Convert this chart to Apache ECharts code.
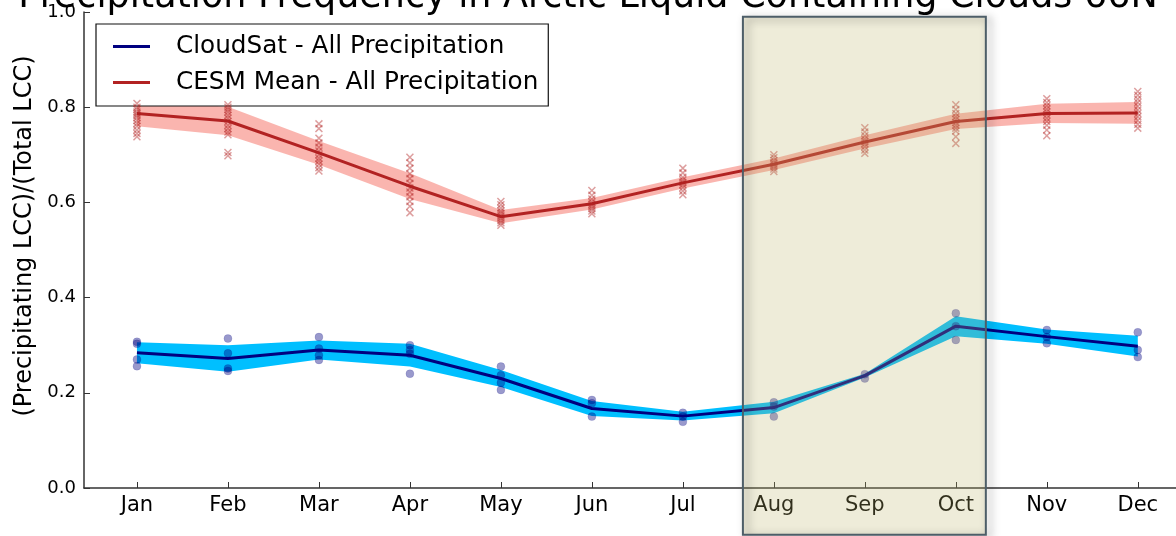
<!DOCTYPE html>
<html>
<head>
<meta charset="utf-8">
<script src="https://cdn.jsdelivr.net/npm/echarts@6/dist/echarts.min.js"></script>
<style>
html,body{margin:0;padding:0;background:#fff;}
#chart{width:1176px;height:536px;}
</style>
</head>
<body>
<div id="chart"></div>
<script>
const months = ['Jan','Feb','Mar','Apr','May','Jun','Jul','Aug','Sep','Oct','Nov','Dec'];
const yTicks = [0, 0.2, 0.4, 0.6, 0.8, 1.0];

const cesmMean   = [0.787,0.771,0.704,0.634,0.570,0.597,0.641,0.680,0.727,0.770,0.787,0.788];
const cesmSpread = [0.027,0.030,0.025,0.027,0.014,0.012,0.012,0.012,0.014,0.016,0.020,0.023];

const cloudsatMean   = [0.284,0.272,0.290,0.279,0.230,0.167,0.151,0.169,0.236,0.340,0.318,0.298];
const cloudsatSpread = [0.022,0.028,0.020,0.024,0.018,0.016,0.009,0.012,0.004,0.021,0.015,0.022];

const cloudsatYears = [
  [0.307,0.303,0.270,0.256],
  [0.314,0.283,0.251,0.246],
  [0.317,0.293,0.279,0.269],
  [0.300,0.290,0.282,0.240],
  [0.255,0.237,0.221,0.206],
  [0.185,0.178,0.150],
  [0.158,0.150,0.139],
  [0.180,0.171,0.150],
  [0.239,0.230],
  [0.367,0.340,0.311],
  [0.332,0.317,0.304],
  [0.327,0.290,0.275]
];

const cesmMembers = [
  [0.808,0.800,0.795,0.790,0.786,0.782,0.778,0.772,0.766,0.760,0.752,0.745,0.738],
  [0.805,0.800,0.795,0.790,0.783,0.777,0.770,0.762,0.755,0.748,0.742,0.705,0.698],
  [0.765,0.755,0.735,0.725,0.716,0.708,0.700,0.693,0.687,0.680,0.673,0.666],
  [0.695,0.683,0.672,0.660,0.650,0.640,0.630,0.622,0.612,0.602,0.592,0.578],
  [0.602,0.595,0.588,0.582,0.577,0.572,0.567,0.562,0.557,0.552],
  [0.625,0.615,0.607,0.601,0.596,0.592,0.587,0.582,0.576],
  [0.672,0.662,0.653,0.647,0.642,0.637,0.631,0.624,0.616],
  [0.700,0.694,0.688,0.683,0.679,0.675,0.670,0.665],
  [0.757,0.748,0.740,0.733,0.728,0.723,0.717,0.710,0.703],
  [0.805,0.795,0.787,0.780,0.774,0.768,0.762,0.756,0.750,0.738,0.724],
  [0.818,0.810,0.803,0.796,0.790,0.784,0.777,0.770,0.762,0.752,0.740],
  [0.833,0.825,0.817,0.810,0.802,0.794,0.787,0.780,0.772,0.764,0.756]
];

// highlighted season box (Aug-Oct), in data units: [xFrom, yTop, xTo, yBottom]
const highlightBox = [7.66, 0.99, 10.33, -0.098];

const FONT = 'DejaVu Sans';
const xs = months.map((m, i) => i + 1);

function pairs(vals) { return vals.map((v, i) => [xs[i], v]); }
function scatterPairs(groups) {
  const out = [];
  groups.forEach((g, i) => g.forEach(v => out.push([xs[i], v])));
  return out;
}
function bandSeries(mean, spread, fill, z) {
  return {
    type: 'custom', z: z, silent: true,
    data: [[xs[0], mean[0]]],
    encode: {x: 0, y: 1},
    renderItem: function (params, api) {
      const pts = [];
      for (let i = 0; i < mean.length; i++) pts.push(api.coord([xs[i], mean[i] + spread[i]]));
      for (let i = mean.length - 1; i >= 0; i--) pts.push(api.coord([xs[i], mean[i] - spread[i]]));
      return {type: 'polygon', shape: {points: pts}, style: {fill: fill}};
    }
  };
}

const crossPath = 'path://M0,1.3 L1.3,0 L5,3.7 L8.7,0 L10,1.3 L6.3,5 L10,8.7 L8.7,10 L5,6.3 L1.3,10 L0,8.7 L3.7,5 Z';

const chart = echarts.init(document.getElementById('chart'), null, {renderer: 'canvas'});
chart.setOption({
  animation: false,
  backgroundColor: '#ffffff',
  title: {
    text: 'Precipitation Frequency in Arctic Liquid Containing Clouds 66N',
    left: 'center', top: -26,
    textStyle: {fontFamily: FONT, fontSize: 36.5, fontWeight: 'normal', color: '#000'}
  },
  legend: {
    orient: 'vertical', left: 96, top: 24,
    padding: [10, 10, 11, 17],
    itemGap: 11, itemWidth: 37, itemHeight: 3, icon: 'rect',
    borderColor: '#111', borderWidth: 1.2, borderRadius: 0,
    backgroundColor: '#fff',
    data: ['CloudSat - All Precipitation', 'CESM Mean - All Precipitation'],
    textStyle: {fontFamily: FONT, fontSize: 24.7, color: '#000', lineHeight: 24, padding: [0, 0, 0, 21]}
  },
  grid: {left: 84, right: 0, top: 12, bottom: 48, containLabel: false},
  xAxis: {
    type: 'value', min: 0.418, max: 12.42,
    axisLine: {show: true, lineStyle: {color: '#333', width: 1.5}},
    axisTick: {show: true, inside: true, length: 6, customValues: xs, lineStyle: {color: '#333', width: 1}},
    axisLabel: {customValues: xs, formatter: v => months[Math.round(v) - 1], fontFamily: FONT, fontSize: 21, color: '#000', margin: 7},
    splitLine: {show: false}
  },
  yAxis: {
    type: 'value', min: yTicks[0], max: yTicks[yTicks.length - 1], interval: 0.2,
    name: '(Precipitating LCC)/(Total LCC)', nameLocation: 'middle', nameRotate: 90, nameGap: 45,
    nameTextStyle: {fontFamily: FONT, fontSize: 24, color: '#000', padding: [0, 0, 0, 28]},
    axisLine: {show: true, lineStyle: {color: '#333', width: 1.5}},
    axisTick: {show: true, inside: true, length: 6, lineStyle: {color: '#333', width: 1}},
    axisLabel: {formatter: v => v.toFixed(1), fontFamily: FONT, fontSize: 18, color: '#000', margin: 8},
    splitLine: {show: false}
  },
  series: [
    bandSeries(cesmMean, cesmSpread, 'rgba(245,120,110,0.55)', 2),
    bandSeries(cloudsatMean, cloudsatSpread, '#00bfff', 2),
    {
      name: 'CESM Mean - All Precipitation', type: 'line', z: 3,
      data: pairs(cesmMean), symbol: 'none', lineStyle: {color: '#b22222', width: 3}, itemStyle: {color: '#b22222'}
    },
    {
      name: 'CloudSat - All Precipitation', type: 'line', z: 3,
      data: pairs(cloudsatMean), symbol: 'none', lineStyle: {color: '#000080', width: 3}, itemStyle: {color: '#000080'}
    },
    {
      type: 'scatter', z: 4, silent: true,
      data: scatterPairs(cesmMembers), symbol: crossPath, symbolSize: 8,
      itemStyle: {color: 'rgba(178,34,34,0.55)'}
    },
    {
      type: 'scatter', z: 4, silent: true,
      data: scatterPairs(cloudsatYears), symbol: 'circle', symbolSize: 8,
      itemStyle: {color: 'rgba(0,0,128,0.5)', borderColor: 'rgba(0,0,128,0.3)', borderWidth: 0.5}
    },
    {
      type: 'custom', z: 6, silent: true, clip: false,
      data: [highlightBox],
      encode: {x: [0, 2], y: [1, 3]},
      renderItem: function (params, api) {
        const p0 = api.coord([api.value(0), api.value(1)]);
        const p1 = api.coord([api.value(2), api.value(3)]);
        const shape = {x: p0[0], y: p0[1], width: p1[0] - p0[0], height: p1[1] - p0[1]};
        return {
          type: 'group',
          children: [
            {
              type: 'rect', shape: shape,
              style: {fill: 'rgba(189,183,107,0.26)', stroke: null}
            },
            {
              type: 'rect', shape: shape,
              style: {
                fill: null, stroke: '#4d5e68', lineWidth: 2,
                shadowBlur: 8, shadowColor: 'rgba(0,0,0,0.45)', shadowOffsetX: 4, shadowOffsetY: 2
              }
            }
          ]
        };
      }
    }
  ]
});
</script>
</body>
</html>
